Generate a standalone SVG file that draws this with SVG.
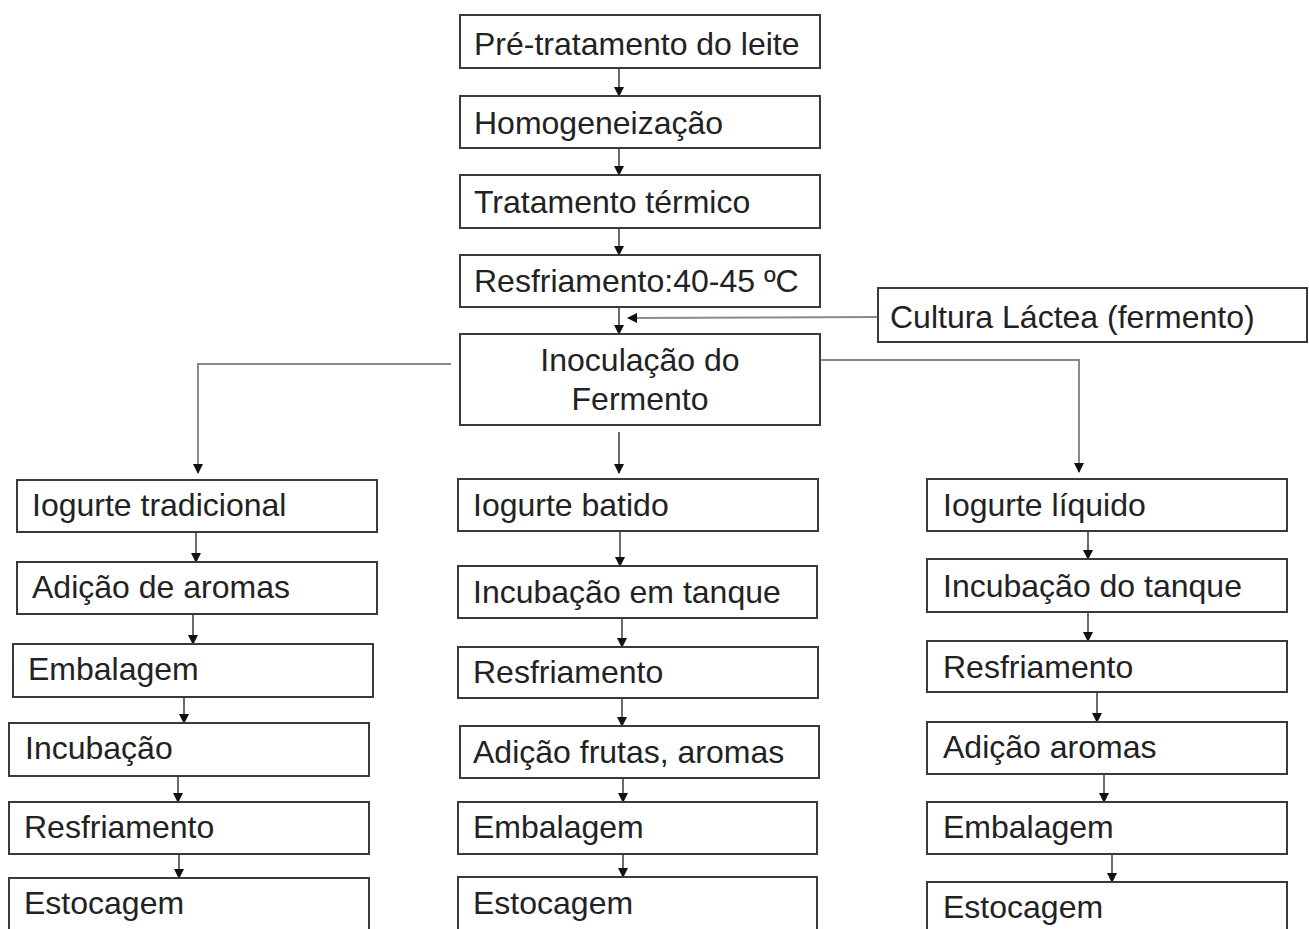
<svg xmlns="http://www.w3.org/2000/svg" width="1309" height="929" viewBox="0 0 1309 929">
<style>
.box{fill:#fff;stroke:#3a3a3a;stroke-width:2}
.t{font-family:"Liberation Sans",Arial,sans-serif;font-size:32px;fill:#222}
.c{stroke:#3a3a3a;stroke-width:1.5;fill:none}
.g{stroke:#8a8a8a;stroke-width:2;fill:none}
</style>
<defs>
<marker id="ah" markerWidth="10" markerHeight="10" refX="9" refY="5" orient="auto" markerUnits="userSpaceOnUse">
<path d="M0,0 L10,5 L0,10 Z" fill="#111"/>
</marker>
</defs>
<rect width="1309" height="929" fill="#fff"/>
<g id="connectors">
<line class="c" x1="619" y1="68" x2="619" y2="96" marker-end="url(#ah)"/>
<line class="c" x1="619" y1="148" x2="619" y2="175" marker-end="url(#ah)"/>
<line class="c" x1="619" y1="228" x2="619" y2="255" marker-end="url(#ah)"/>
<line class="c" x1="619" y1="307" x2="619" y2="334" marker-end="url(#ah)"/>
<line class="g" x1="878" y1="317" x2="628" y2="318" marker-end="url(#ah)"/>
<polyline class="g" points="451,364 198,364 198,473" marker-end="url(#ah)"/>
<polyline class="g" points="820,360 1079,360 1079,472" marker-end="url(#ah)"/>
<line class="c" x1="619" y1="432" x2="619" y2="473" marker-end="url(#ah)"/>
<line class="c" x1="196" y1="532" x2="196" y2="562" marker-end="url(#ah)"/>
<line class="c" x1="193" y1="614" x2="193" y2="644" marker-end="url(#ah)"/>
<line class="c" x1="184" y1="697" x2="184" y2="723" marker-end="url(#ah)"/>
<line class="c" x1="178" y1="776" x2="178" y2="802" marker-end="url(#ah)"/>
<line class="c" x1="179" y1="854" x2="179" y2="878" marker-end="url(#ah)"/>
<line class="c" x1="620" y1="531" x2="620" y2="566" marker-end="url(#ah)"/>
<line class="c" x1="622" y1="618" x2="622" y2="647" marker-end="url(#ah)"/>
<line class="c" x1="622" y1="698" x2="622" y2="726" marker-end="url(#ah)"/>
<line class="c" x1="623" y1="778" x2="623" y2="802" marker-end="url(#ah)"/>
<line class="c" x1="623" y1="854" x2="623" y2="877" marker-end="url(#ah)"/>
<line class="c" x1="1088" y1="531" x2="1088" y2="559" marker-end="url(#ah)"/>
<line class="c" x1="1088" y1="612" x2="1088" y2="641" marker-end="url(#ah)"/>
<line class="c" x1="1097" y1="692" x2="1097" y2="722" marker-end="url(#ah)"/>
<line class="c" x1="1104" y1="774" x2="1104" y2="802" marker-end="url(#ah)"/>
<line class="c" x1="1112" y1="854" x2="1112" y2="882" marker-end="url(#ah)"/>
</g>
<g id="n-pre"><rect class="box" x="460" y="15" width="360" height="53"/><text class="t" x="474" y="55">Pré-tratamento do leite</text></g>
<g id="n-homo"><rect class="box" x="460" y="96" width="360" height="52"/><text class="t" x="474" y="134">Homogeneização</text></g>
<g id="n-trat"><rect class="box" x="460" y="175" width="360" height="53"/><text class="t" x="474" y="213">Tratamento térmico</text></g>
<g id="n-resf"><rect class="box" x="460" y="255" width="360" height="52"/><text class="t" x="474" y="292">Resfriamento:40-45 ºC</text></g>
<g id="n-cultura"><rect class="box" x="878" y="288" width="429" height="54"/><text class="t" x="890" y="328">Cultura Láctea (fermento)</text></g>
<g id="n-inoc"><rect class="box" x="460" y="334" width="360" height="91"/><text class="t" x="640" y="371" text-anchor="middle">Inoculação do</text><text class="t" x="640" y="410" text-anchor="middle">Fermento</text></g>
<g id="l1"><rect class="box" x="17" y="480" width="360" height="52"/><text class="t" x="32" y="516">Iogurte tradicional</text></g>
<g id="l2"><rect class="box" x="17" y="562" width="360" height="52"/><text class="t" x="32" y="598">Adição de aromas</text></g>
<g id="l3"><rect class="box" x="13" y="644" width="360" height="53"/><text class="t" x="28" y="680">Embalagem</text></g>
<g id="l4"><rect class="box" x="9" y="723" width="360" height="53"/><text class="t" x="25" y="759">Incubação</text></g>
<g id="l5"><rect class="box" x="9" y="802" width="360" height="52"/><text class="t" x="24" y="838">Resfriamento</text></g>
<g id="l6"><rect class="box" x="9" y="878" width="360" height="60"/><text class="t" x="24" y="914">Estocagem</text></g>
<g id="m1"><rect class="box" x="458" y="479" width="360" height="52"/><text class="t" x="473" y="516">Iogurte batido</text></g>
<g id="m2"><rect class="box" x="458" y="566" width="359" height="52"/><text class="t" x="473" y="603">Incubação em tanque</text></g>
<g id="m3"><rect class="box" x="458" y="647" width="360" height="51"/><text class="t" x="473" y="683">Resfriamento</text></g>
<g id="m4"><rect class="box" x="460" y="726" width="359" height="52"/><text class="t" x="473" y="763">Adição frutas, aromas</text></g>
<g id="m5"><rect class="box" x="458" y="802" width="359" height="52"/><text class="t" x="473" y="838">Embalagem</text></g>
<g id="m6"><rect class="box" x="458" y="877" width="359" height="60"/><text class="t" x="473" y="914">Estocagem</text></g>
<g id="r1"><rect class="box" x="927" y="479" width="360" height="52"/><text class="t" x="943" y="516">Iogurte líquido</text></g>
<g id="r2"><rect class="box" x="927" y="559" width="360" height="53"/><text class="t" x="943" y="597">Incubação do tanque</text></g>
<g id="r3"><rect class="box" x="927" y="641" width="360" height="51"/><text class="t" x="943" y="678">Resfriamento</text></g>
<g id="r4"><rect class="box" x="927" y="722" width="360" height="52"/><text class="t" x="943" y="758">Adição aromas</text></g>
<g id="r5"><rect class="box" x="927" y="802" width="360" height="52"/><text class="t" x="943" y="838">Embalagem</text></g>
<g id="r6"><rect class="box" x="927" y="882" width="360" height="60"/><text class="t" x="943" y="918">Estocagem</text></g>
</svg>
